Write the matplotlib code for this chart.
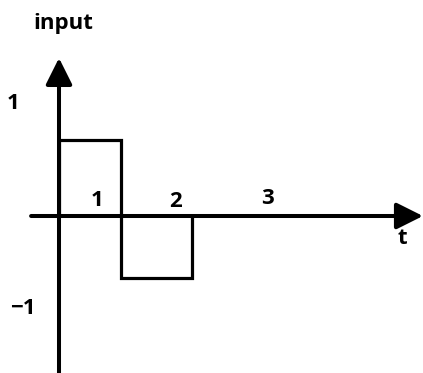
import matplotlib
matplotlib.use("Agg")
from matplotlib import pyplot as plt

# signal: +a on [0, t1], -b on [t1, t2], 0 after
step_t = [0, 0, 1.0, 1.0, 2.145, 2.145]
step_v = [0, 0.76, 0.76, -0.62, -0.62, 0]

# labels drawn along the axes
t_labels = ["1", "2", "3"]
t_label_pos = [0.61, 1.88, 3.37]
t_label_y = [0.16, 0.15, 0.18]
v_labels = ["1", "\u22121"]
v_label_pos = [1.13, -0.92]

plt.rcParams['font.family'] = ['Open Sans', 'DejaVu Sans']

fig = plt.figure(figsize=(4.23, 3.73), dpi=100)
ax = fig.add_axes([0, 0, 1, 1])
ax.set_xlim(-59 / 62, 364 / 62)
ax.set_ylim(-1.57, 2.16)
ax.axis('off')

# axes with arrow heads
arrow = dict(arrowstyle='-|>,head_length=0.9,head_width=0.45', lw=2.9,
             color='black', shrinkA=0, shrinkB=0, mutation_scale=18)
ax.annotate('', xy=(5.87, 0), xytext=(-0.45, 0), arrowprops=arrow)
ax.annotate('', xy=(0, 1.58), xytext=(0, -1.6), arrowprops=arrow)

ax.plot(step_t, step_v, color='black', lw=2.3, solid_joinstyle='miter')

fs = 16
for lab, x, y in zip(t_labels, t_label_pos, t_label_y):
    ax.text(x, y, lab, fontsize=fs, fontweight='bold', ha='center', va='center')
for lab, y, x in zip(v_labels, v_label_pos, [-0.74, -0.58]):
    ax.text(x, y, lab, fontsize=fs, fontweight='bold', ha='center', va='center')

ax.text((402 - 59) / 62, -0.22, 't', fontsize=fs, fontweight='bold', ha='center', va='center')
ax.text(0.07, 1.93, 'input', fontsize=fs, fontweight='bold', ha='center', va='center')

fig.savefig('out.png', dpi=100)
